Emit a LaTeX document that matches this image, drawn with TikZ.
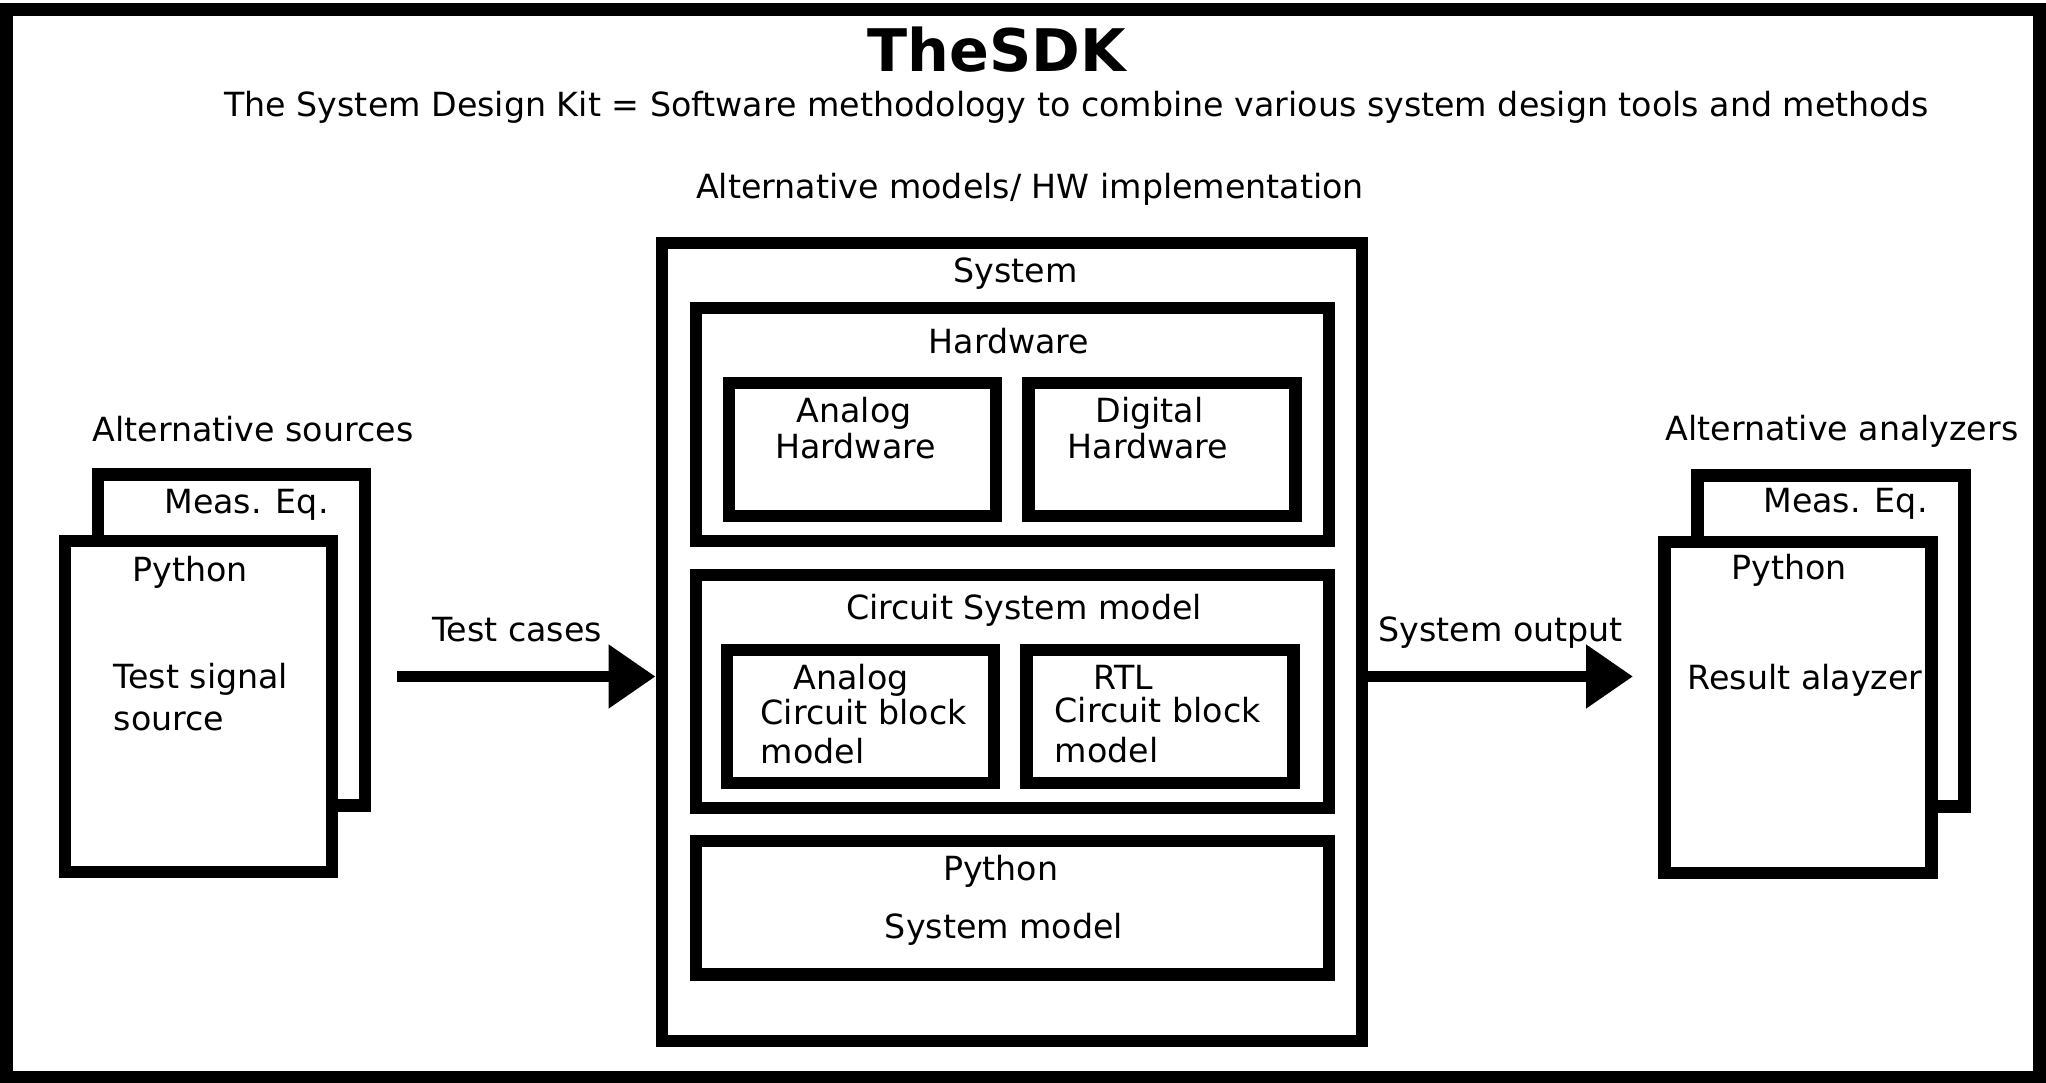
\documentclass[tikz,border=0pt]{standalone}
\usepackage{fontspec}
\setmainfont{DejaVu Sans}
\usetikzlibrary{arrows.meta}

\begin{document}
\begin{tikzpicture}[x = 0.01cm, y = -0.01cm,
  blk/.style = {draw, line width = 0.125cm, inner sep = 0pt},
  cell/.style = {blk, minimum width = 2.67cm, minimum height = 1.33cm},
  wide/.style = {blk, minimum width = 6.33cm},
  sheet/.style = {blk, fill = white, minimum width = 2.67cm, minimum height = 3.31cm},
  lbl/.style = {inner sep = 0pt, anchor = base, font = \fontsize{9.46}{11}\selectfont},
  lbll/.style = {lbl, anchor = base west},
  flow/.style = {line width = 0.115cm, -{Triangle[length = 0.47cm, width = 0.61cm]}}]
  \useasboundingbox (0, 0) rectangle (2046, 1083);
  \draw[line width = 0.13cm] (6, 10) rectangle (2039.5, 1077);

  \node[lbl, font = \fontsize{16.7}{20}\selectfont\bfseries] (title) at (996.5, 71.7) {TheSDK};
  \node[lbl] (subtitle) at (1076.5, 116.5) {The System Design Kit = Software methodology to combine various system design tools and methods};

  \node[lbl] (altmod) at (1030, 199) {Alternative models/ HW implementation};
  \node[blk, minimum width = 7.00cm, minimum height = 7.98cm] (sys) at (1012, 642) {};
  \node[lbl] (systxt) at (1015.6, 283) {System};

  \node[wide, minimum height = 2.33cm] (hw) at (1012.5, 424.5) {};
  \node[lbl] (hwtxt) at (1009, 354) {Hardware};
  \node[cell] (ahw) at (862.5, 449.5) {};
  \node[cell] (dhw) at (1162, 449.5) {};
  \node[lbl] (ahwa) at (854, 422.7) {Analog};
  \node[lbl] (ahwb) at (855.6, 458.3) {Hardware};
  \node[lbl] (dhwa) at (1149.6, 422.7) {Digital};
  \node[lbl] (dhwb) at (1148, 458.3) {Hardware};

  \node[wide, minimum height = 2.33cm] (csm) at (1012.5, 691.5) {};
  \node[lbl] (csmtxt) at (1024, 620) {Circuit System model};
  \node[cell] (acb) at (860.5, 716.5) {};
  \node[cell] (rtl) at (1160, 716.5) {};
  \node[lbl] (acba) at (851, 689.3) {Analog};
  \node[lbll] (acbb) at (760, 725) {Circuit block};
  \node[lbll] (acbc) at (760, 764) {model};
  \node[lbl] (rtla) at (1123.5, 689.3) {RTL};
  \node[lbll] (rtlb) at (1054, 722) {Circuit block};
  \node[lbll] (rtlc) at (1054, 763) {model};

  \node[wide, minimum height = 1.335cm] (psm) at (1012.5, 907.7) {};
  \node[lbl] (psma) at (1000.7, 880.7) {Python};
  \node[lbl] (psmb) at (1004, 938) {System model};

  \node[lbl] (altsrc) at (253, 442) {Alternative sources};
  \node[sheet] (srcback) at (231.5, 640) {};
  \node[sheet] (srcfront) at (198.5, 706.5) {};
  \node[lbl] (srcmeas) at (246.5, 514) {Meas. Eq.};
  \node[lbl] (srcpy) at (190, 581.6) {Python};
  \node[lbll] (srca) at (113, 689) {Test signal};
  \node[lbll] (srcb) at (113, 731) {source};

  \node[lbl] (altana) at (1842, 441) {Alternative analyzers};
  \node[sheet] (anaback) at (1831, 641) {};
  \node[sheet] (anafront) at (1798, 707.5) {};
  \node[lbl] (anameas) at (1845.5, 513) {Meas. Eq.};
  \node[lbl] (anapy) at (1789, 580) {Python};
  \node[lbl] (anatxt) at (1805, 690) {Result alayzer};

  \coordinate (tcin) at (397, 676.5);
  \coordinate (soout) at (1633, 676.5);
  \draw[flow] (tcin) -- (sys.west |- tcin);
  \draw[flow] (sys.east |- soout) -- (soout);
  \node[lbl] (tctxt) at (517, 641.5) {Test cases};
  \node[lbl] (sotxt) at (1500.6, 641.7) {System output};
\end{tikzpicture}
\end{document}
